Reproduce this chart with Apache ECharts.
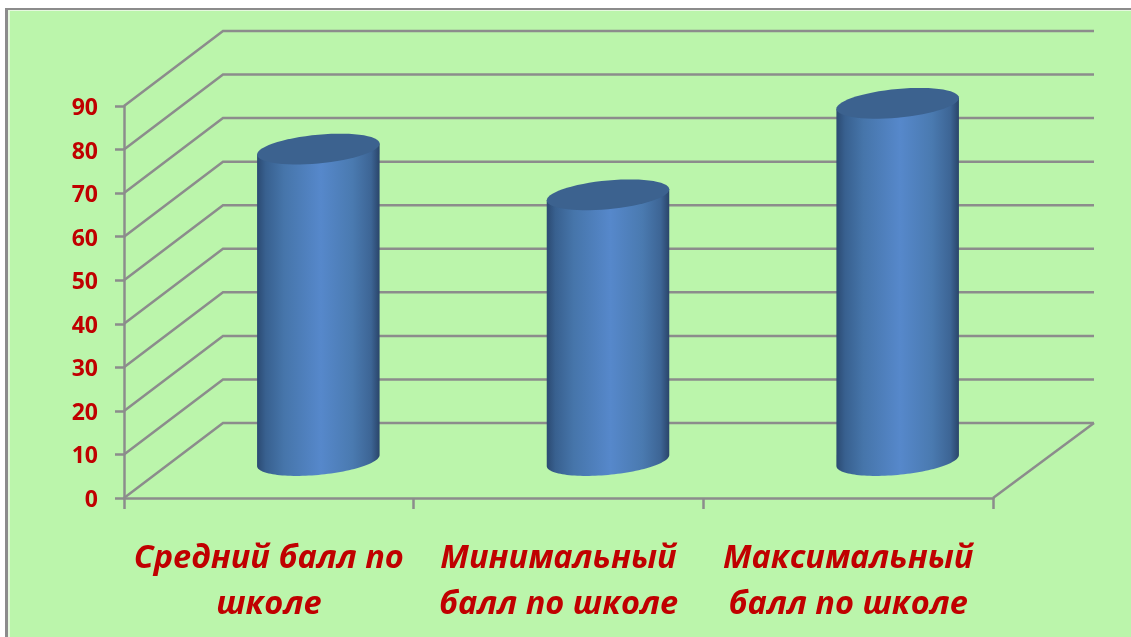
<!DOCTYPE html>
<html>
<head>
<meta charset="utf-8">
<style>
  html, body { margin: 0; padding: 0; background: #fff; overflow: hidden; }
  #frame { position: absolute; left: 5px; top: 8px; right: 0; bottom: 0; background: #bbf5ab;
    border-left: 3px solid #8c8c8c; border-top: 2px solid #8c8c8c; box-shadow: inset 2px 1px 0 #e6f8df; }
  #container { position: absolute; left: 0; top: 0; width: 1131px; height: 637px; }
</style>
<script src="https://cdn.jsdelivr.net/npm/echarts@6/dist/echarts.min.js"></script>
</head>
<body>
<div id="frame"></div>
<div id="container"></div>
<script>
const categories = ['Средний балл по\nшколе', 'Минимальный\nбалл по школе', 'Максимальный\nбалл по школе'];
const values = [71.5, 61, 82];
const yTicks = [0, 10, 20, 30, 40, 50, 60, 70, 80, 90];

const RED = '#c00000';
const GREY = '#8c8c8c';
// fake 3d: how far the back wall is shifted from the front plane
const DEPTH_X = 99;
const DEPTH_Y = 75;
const BACK_EXTRA = 2;

function ellipsePoints(cx, cy, rx, tilt, ry, from, to) {
  const pts = [];
  const steps = 60;
  for (let i = 0; i <= steps; i++) {
    const t = from + (to - from) * i / steps;
    pts.push([cx + rx * Math.cos(t), cy - tilt * Math.cos(t) + ry * Math.sin(t)]);
  }
  return pts;
}

function renderWall(params, api) {
  const v = api.value(1);
  const box = params.coordSys;
  const y = api.coord([0, v])[1];
  const left = box.x;
  const right = box.x + box.width;
  const style = { stroke: GREY, lineWidth: 2.5, fill: null };
  const children = [{
    type: 'polyline',
    shape: { points: [[left, y], [left + DEPTH_X, y - DEPTH_Y], [right + DEPTH_X + BACK_EXTRA, y - DEPTH_Y]] },
    style: style
  }];
  if (v === 0) {
    children.push({
      type: 'line',
      shape: { x1: right, y1: y, x2: right + DEPTH_X + BACK_EXTRA, y2: y - DEPTH_Y },
      style: style
    });
  }
  return { type: 'group', children: children };
}

function renderCylinder(params, api) {
  const i = api.value(0);
  const base = api.coord([i, 0]);
  const top = api.coord([i, api.value(1)]);
  const rx = api.size([1, 0])[0] * 0.2115;
  const tilt = rx * 0.09;
  const ry = rx * 0.235;
  const cx = base[0] + DEPTH_X / 2;
  const yBase = base[1] - DEPTH_Y / 2;
  const yTop = top[1] - DEPTH_Y / 2;
  const body = ellipsePoints(cx, yBase, rx, tilt, ry, Math.PI, 0)
    .concat([[cx + rx, yTop - tilt], [cx - rx, yTop + tilt]]);
  return {
    type: 'group',
    children: [{
      type: 'polygon',
      shape: { points: body },
      style: {
        fill: {
          type: 'linear', x: 0, y: 0, x2: 1, y2: 0,
          colorStops: [
            { offset: 0, color: '#2b4a72' },
            { offset: 0.07, color: '#38608f' },
            { offset: 0.22, color: '#4675aa' },
            { offset: 0.52, color: '#5688cb' },
            { offset: 0.78, color: '#4a7ab0' },
            { offset: 0.93, color: '#3d6595' },
            { offset: 1, color: '#2a456a' }
          ]
        }
      }
    }, {
      type: 'polygon',
      shape: { points: ellipsePoints(cx, yTop, rx, tilt, ry, 0, Math.PI * 2) },
      style: { fill: '#3c628f' }
    }]
  };
}

var myChart = echarts.init(document.getElementById('container'), null, { renderer: 'canvas' });
var option = {
  animation: false,
  grid: { left: 124, top: 106, width: 869, height: 392, containLabel: false },
  xAxis: {
    type: 'category',
    data: categories,
    axisLine: { lineStyle: { color: GREY, width: 2.5 } },
    axisTick: { show: true, alignWithLabel: false, length: 11, lineStyle: { color: GREY, width: 2.5 } },
    axisLabel: {
      margin: 38,
      color: RED,
      fontFamily: 'Open Sans',
      fontSize: 32.5,
      fontWeight: 'bold',
      fontStyle: 'italic',
      lineHeight: 46,
      interval: 0
    }
  },
  yAxis: {
    type: 'value',
    min: 0,
    max: 90,
    interval: 10,
    splitLine: { show: false },
    axisLine: { show: true, lineStyle: { color: GREY, width: 2.5 } },
    axisTick: { show: true, length: 9, lineStyle: { color: GREY, width: 2.5 } },
    axisLabel: {
      margin: 26,
      formatter: '{n|{value}}',
      rich: {
        n: {
          padding: [5, 0, 0, 0],
          color: RED,
          fontFamily: 'Noto Sans',
          fontSize: 23,
          fontWeight: 'bold'
        }
      }
    }
  },
  series: [
    {
      type: 'custom',
      renderItem: renderWall,
      silent: true,
      clip: false,
      z: 1,
      data: yTicks.map(function (v) { return [0, v]; })
    },
    {
      type: 'custom',
      renderItem: renderCylinder,
      silent: true,
      clip: false,
      z: 2,
      data: values.map(function (v, i) { return [i, v]; })
    }
  ]
};
myChart.setOption(option);
</script>
</body>
</html>
